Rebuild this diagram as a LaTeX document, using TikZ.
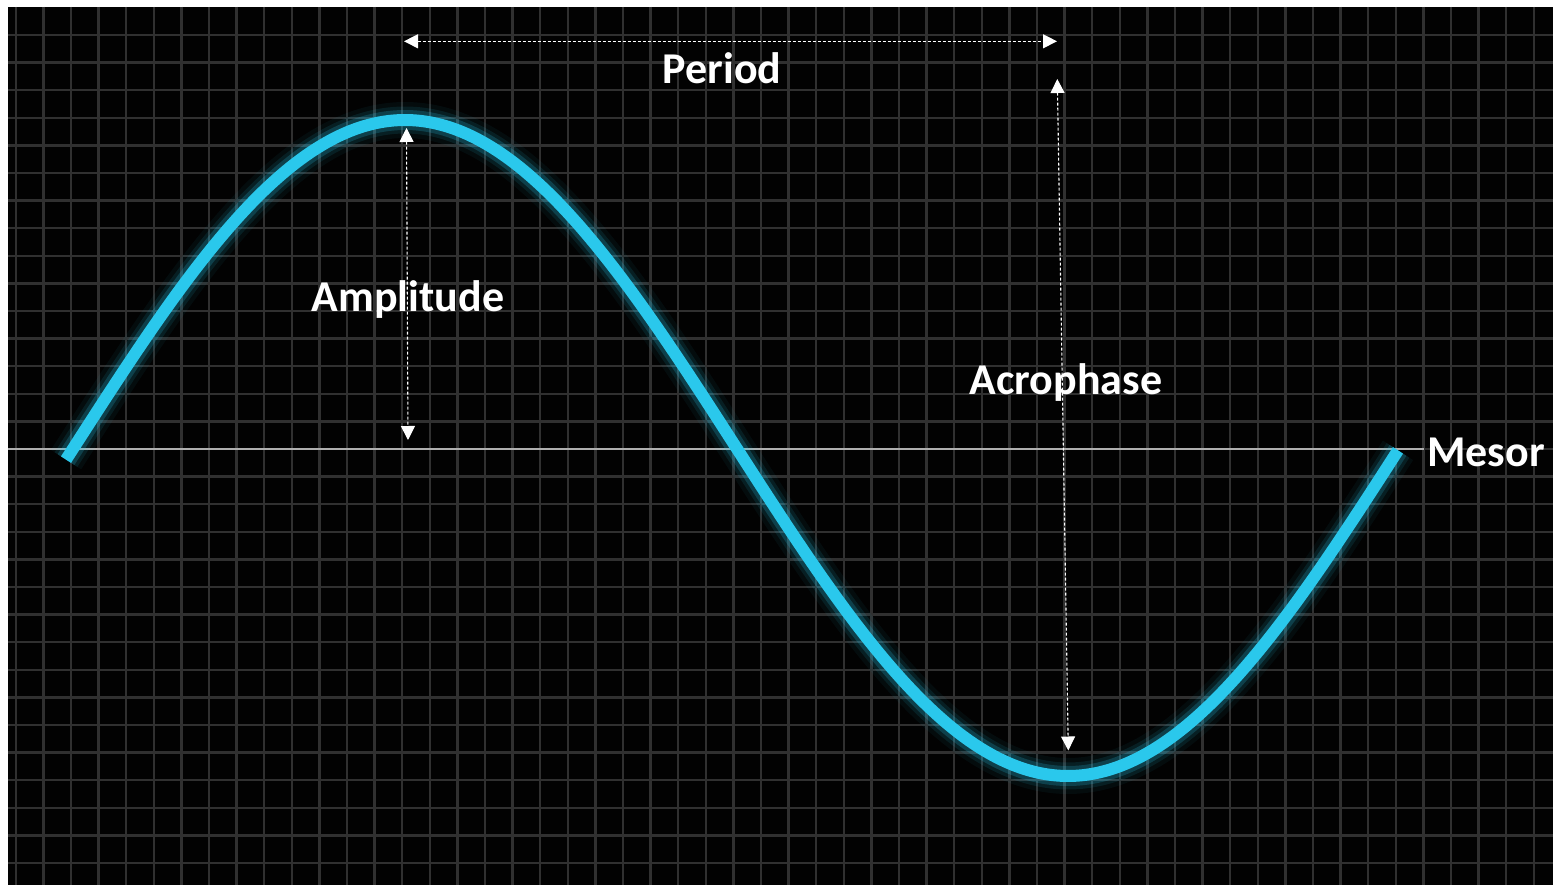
\documentclass[tikz,border=0pt]{standalone}
\usepackage{fontspec}
\setmainfont{Carlito}
\usetikzlibrary{arrows.meta}
\definecolor{bgdark}{RGB}{2,2,2}
\definecolor{gridline}{RGB}{48,48,48}
\definecolor{mesorline}{RGB}{175,175,175}
\definecolor{wavecyan}{RGB}{42,200,236}
\newcommand{\wavey}[1]{448+328*sin(((#1)-736.5)/1326*360)}

\begin{document}
\begin{tikzpicture}[x=1pt,y=-1pt,
  dimline/.style={white,line width=1.1pt,dash pattern=on 3pt off 2pt,
    {Triangle[length=14pt,width=14pt]}-{Triangle[length=14pt,width=14pt]}},
  wavelabel/.style={white,font=\fontsize{44}{50}\selectfont\bfseries,inner sep=0pt}]
\useasboundingbox (0,0) rectangle (1553,885);
\fill[white] (0,0) rectangle (1553,885);
\fill[bgdark] (8,7) rectangle (1553,885);
% grid
\foreach \gx in {15.7,43.3,...,1553}{
  \draw[gridline,line width=2.4pt] (\gx,7) -- (\gx,885);
}
\foreach \gy in {35,62.6,...,885}{
  \draw[gridline,line width=2.4pt] (8,\gy) -- (1553,\gy);
}
\draw[mesorline,line width=2.2pt] (8,449) -- (1424,449);
% wave with glow
\foreach \w/\o in {36/0.05,27/0.1,20/0.2}{
  \draw[wavecyan,line width=\w pt,opacity=\o]
    plot[domain=66:1398,samples=240,smooth] (\x,{\wavey{\x}});
}
\draw[wavecyan,line width=12pt]
  plot[domain=66:1398,samples=240,smooth] (\x,{\wavey{\x}});
% dimension arrows
\coordinate (perL) at (404,41.3);
\coordinate (perR) at (1057,41.3);
\coordinate (ampT) at (406.5,128);
\coordinate (ampB) at (408,440);
\coordinate (acrT) at (1057.3,79);
\coordinate (acrB) at (1068.3,750.5);
\draw[dimline] (perL) -- (perR);
\draw[dimline] (ampT) -- (ampB);
\draw[dimline] (acrT) -- (acrB);
% labels
\node[wavelabel] (period) at (722,68) {Period};
\node[wavelabel] (amplitude) at (408,300) {Amplitude};
\node[wavelabel] (acrophase) at (1066,383) {Acrophase};
\node[wavelabel,anchor=west] (mesor) at (1427,452) {Mesor};
\end{tikzpicture}
\end{document}
